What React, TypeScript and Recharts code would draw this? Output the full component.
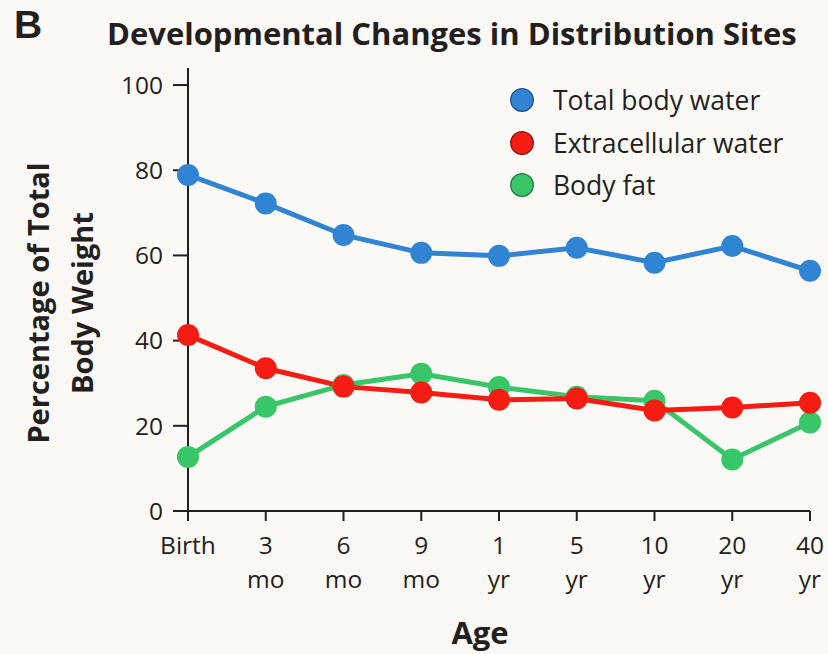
import React from 'react';
import { LineChart, Line, XAxis, YAxis, Legend } from 'recharts';

const ages = ['Birth', '3 mo', '6 mo', '9 mo', '1 yr', '5 yr', '10 yr', '20 yr', '40 yr'];
const totalBodyWater = [78.9, 72.2, 64.8, 60.6, 59.9, 61.8, 58.3, 62.2, 56.4];
const extracellularWater = [41.3, 33.5, 29.2, 27.8, 26.1, 26.4, 23.6, 24.3, 25.4];
const bodyFat = [12.7, 24.5, 29.6, 32.2, 29.1, 26.8, 25.9, 12.1, 20.8];
const yTicks = [0, 20, 40, 60, 80, 100];

const seriesNames = ['Total body water', 'Extracellular water', 'Body fat'];
const seriesColors = ['#3184d4', '#f51c14', '#38c668'];
const seriesOutline = ['#1f4f86', '#8a1410', '#1f7a3e'];

const data = ages.map((a, i) => ({
  age: a,
  tbw: totalBodyWater[i],
  ecw: extracellularWater[i],
  fat: bodyFat[i],
}));

const FONT = '"Open Sans", "Noto Sans", sans-serif';
const TEXT = '#231f20';
const BG = '#fbf9f5';

const AgeTick = (props: any) => {
  const { x, y, payload } = props;
  const parts = String(payload.value).split(' ');
  return (
    <g>
      <text x={x} y={y + 31} textAnchor="middle" fill={TEXT} fontFamily={FONT} fontSize={24.5}>{parts[0]}</text>
      {parts[1] ? (
        <text x={x} y={y + 65} textAnchor="middle" fill={TEXT} fontFamily={FONT} fontSize={24.5}>{parts[1]}</text>
      ) : null}
    </g>
  );
};

const LegendContent = (props: any) => {
  const payload = props.payload || [];
  const order = ['tbw', 'ecw', 'fat'];
  const items = order.map((k) => payload.find((p: any) => p.dataKey === k)).filter(Boolean);
  return (
    <div style={{ fontFamily: FONT, fontSize: 26.5, color: TEXT }}>
      {items.map((p: any, i: number) => {
        const idx = order.indexOf(p.dataKey);
        return (
          <div key={i} style={{ display: 'flex', alignItems: 'center', height: 42.5 }}>
            <svg width={26} height={26} style={{ marginRight: 18 }}>
              <circle cx={13} cy={13} r={11.3} fill={p.color} stroke={seriesOutline[idx]} strokeWidth={1.3} />
            </svg>
            <span>{p.value}</span>
          </div>
        );
      })}
    </div>
  );
};

export default function App() {
  return (
    <div style={{ position: 'absolute', left: 0, top: 0, width: 828, height: 654, background: BG, overflow: 'hidden' }}>
      <LineChart
        width={828}
        height={654}
        data={data}
        margin={{ top: 68, right: 18, bottom: 63, left: 128 }}
      >
        <XAxis
          dataKey="age"
          height={80}
          tick={<AgeTick />}
          tickSize={10}
          tickMargin={2}
          axisLine={{ stroke: '#231f20', strokeWidth: 2 }}
          tickLine={{ stroke: '#231f20', strokeWidth: 2 }}
          interval={0}
        />
        <YAxis
          width={60}
          domain={[0, 104]}
          ticks={yTicks}
          tickSize={15}
          tickMargin={10}
          axisLine={{ stroke: '#231f20', strokeWidth: 2 }}
          tickLine={{ stroke: '#231f20', strokeWidth: 2 }}
          tick={{ fill: TEXT, fontFamily: FONT, fontSize: 24.5 }}
          allowDataOverflow
        />
        <Legend
          layout="vertical"
          verticalAlign="middle"
          align="center"
          content={<LegendContent />}
          wrapperStyle={{ left: 509, top: 79, width: 315 }}
        />
        <Line dataKey="fat" name={seriesNames[2]} stroke={seriesColors[2]} strokeWidth={5}
          dot={{ r: 11, fill: seriesColors[2], stroke: seriesColors[2], strokeWidth: 0 }}
          activeDot={false} isAnimationActive={false} />
        <Line dataKey="ecw" name={seriesNames[1]} stroke={seriesColors[1]} strokeWidth={5}
          dot={{ r: 11, fill: seriesColors[1], stroke: seriesColors[1], strokeWidth: 0 }}
          activeDot={false} isAnimationActive={false} />
        <Line dataKey="tbw" name={seriesNames[0]} stroke={seriesColors[0]} strokeWidth={5}
          dot={{ r: 11, fill: seriesColors[0], stroke: seriesColors[0], strokeWidth: 0 }}
          activeDot={false} isAnimationActive={false} />
      </LineChart>

      <svg width={70} height={56} style={{ position: 'absolute', left: 0, top: 0 }}>
        <text x={14} y={38} fontFamily={'"Liberation Sans", Arial, sans-serif'} fontWeight={700} fontSize={39} fill={TEXT}>B</text>
      </svg>
      <div style={{ position: 'absolute', left: 107, top: 12, fontFamily: FONT, fontWeight: 700, fontSize: 31, color: TEXT, lineHeight: '42px', whiteSpace: 'nowrap' }}>
        Developmental Changes in Distribution Sites
      </div>
      <div style={{
        position: 'absolute', left: -140, top: 259, width: 400, height: 88,
        transform: 'rotate(-90deg)', transformOrigin: '200px 44px',
        fontFamily: FONT, fontWeight: 700, fontSize: 29, color: TEXT, lineHeight: '44px', textAlign: 'center',
      }}>
        <div>Percentage of Total</div>
        <div>Body Weight</div>
      </div>
      <div style={{ position: 'absolute', left: 380, top: 610, width: 200, textAlign: 'center', fontFamily: FONT, fontWeight: 700, fontSize: 31, color: TEXT, lineHeight: '44px' }}>
        Age
      </div>
    </div>
  );
}
